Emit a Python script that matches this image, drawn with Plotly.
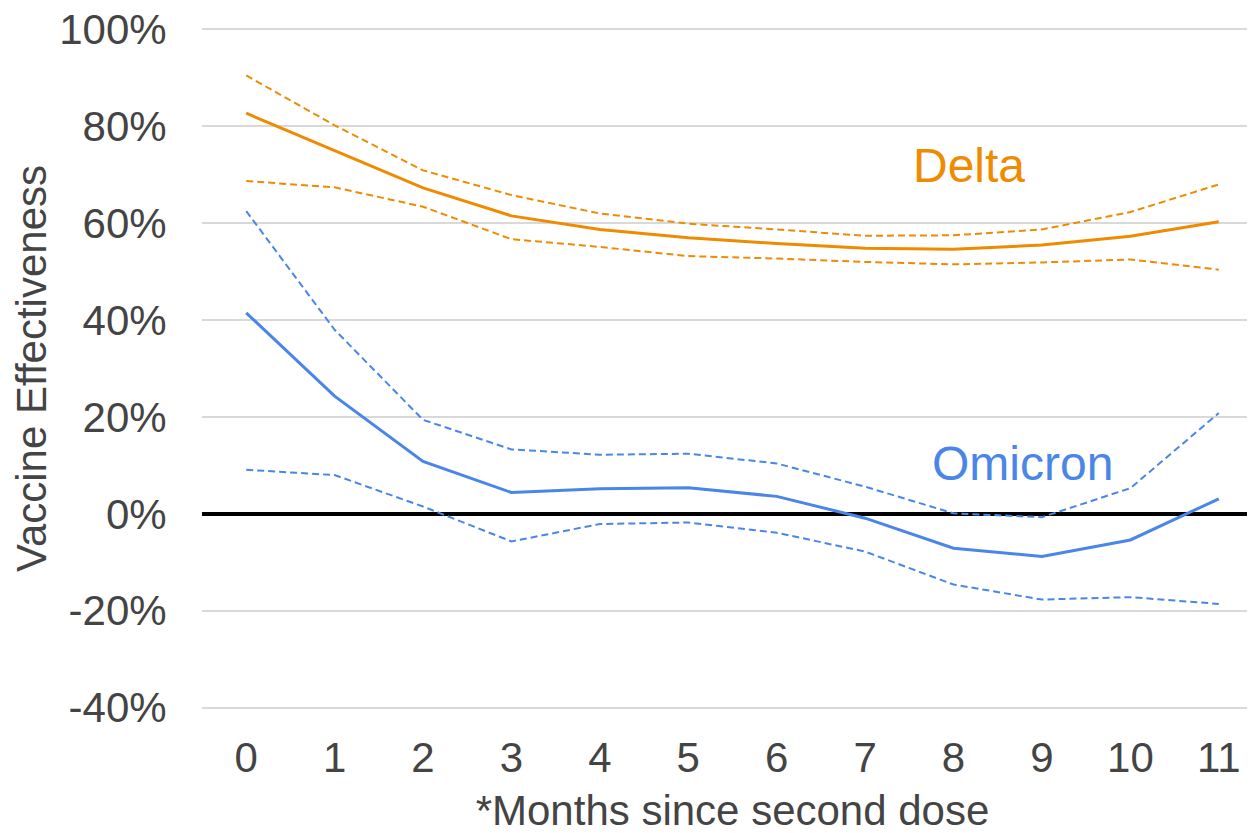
import plotly.graph_objects as go

months = list(range(12))

delta_ve = [82.7, 75.0, 67.3, 61.5, 58.7, 57.0, 55.8, 54.8, 54.6, 55.5, 57.3, 60.3]
delta_upper = [90.5, 80.2, 70.9, 65.8, 62.0, 59.9, 58.7, 57.4, 57.5, 58.7, 62.3, 68.0]
delta_lower = [68.7, 67.4, 63.4, 56.7, 55.1, 53.2, 52.7, 52.0, 51.5, 51.9, 52.5, 50.4]

omicron_ve = [41.5, 24.3, 10.8, 4.4, 5.2, 5.4, 3.6, -0.9, -7.1, -8.8, -5.4, 3.1]
omicron_upper = [62.5, 38.0, 19.4, 13.3, 12.2, 12.4, 10.4, 5.6, 0.1, -0.7, 5.3, 20.8]
omicron_lower = [9.1, 8.0, 1.5, -5.7, -2.1, -1.8, -3.9, -7.8, -14.6, -17.7, -17.2, -18.6]

y_ticks = [-40, -20, 0, 20, 40, 60, 80, 100]
y_labels = ["-40%", "-20%", "0%", "20%", "40%", "60%", "80%", "100%"]

ORANGE = "#ef8b00"
BLUE = "#4a86e8"
FONT = "Arial, 'Liberation Sans', sans-serif"

fig = go.Figure()

for series, colour in [(omicron_upper, BLUE), (omicron_lower, BLUE),
                       (delta_upper, ORANGE), (delta_lower, ORANGE)]:
    fig.add_trace(go.Scatter(x=months, y=series, mode="lines",
                             line=dict(color=colour, width=2, dash="7px,4px")))

fig.add_trace(go.Scatter(x=months, y=omicron_ve, mode="lines",
                         line=dict(color=BLUE, width=3)))
fig.add_trace(go.Scatter(x=months, y=delta_ve, mode="lines",
                         line=dict(color=ORANGE, width=3)))

fig.add_annotation(x=8.17, y=72.0, text="Delta", showarrow=False,
                   font=dict(size=48, color=ORANGE, family=FONT))
fig.add_annotation(x=8.785, y=10.3, text="Omicron", showarrow=False,
                   font=dict(size=48, color=BLUE, family=FONT))

# the page body has an 8px margin, so the margins below are shifted to suit
fig.update_layout(
    width=1255, height=833,
    margin=dict(l=194, r=0, t=19, b=131),
    plot_bgcolor="white", paper_bgcolor="white",
    showlegend=False,
    font=dict(family=FONT, size=42, color="#444444"),
)
fig.update_xaxes(
    range=[-0.5, 11.5], tickvals=months, showgrid=False, zeroline=False,
    ticks="outside", ticklen=11, tickcolor="rgba(0,0,0,0)",
    ticklabeloverflow="allow",
    title=dict(text="*Months since second dose", standoff=15,
               font=dict(size=42, color="#444444")),
    automargin=False,
)
fig.update_yaxes(
    range=[-40.5, 100.5], tickmode="array", tickvals=y_ticks, ticktext=y_labels,
    gridcolor="#d9d9d9", gridwidth=1.5,
    zeroline=True, zerolinecolor="black", zerolinewidth=4,
    ticks="outside", ticklen=26, tickcolor="rgba(0,0,0,0)",
    ticklabeloverflow="allow",
    title=dict(text="Vaccine Effectiveness", standoff=13,
               font=dict(size=42, color="#444444")),
    automargin=False,
)

fig.write_html("out.html")
